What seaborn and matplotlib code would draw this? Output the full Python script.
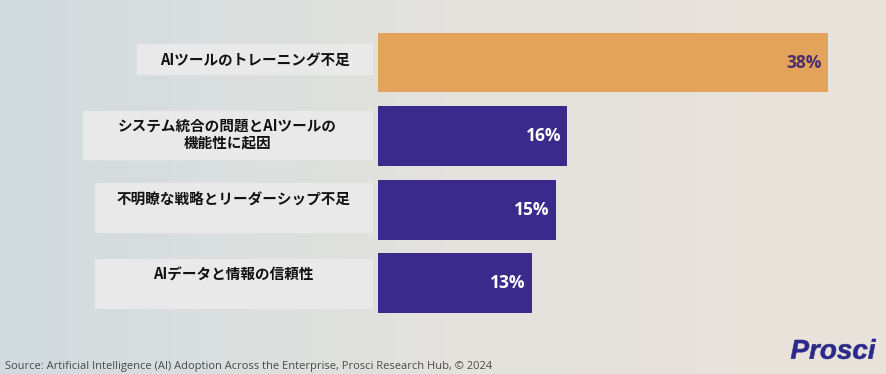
import numpy as np
import pandas as pd
import matplotlib.pyplot as plt
import seaborn as sns
from matplotlib.patches import Rectangle, PathPatch
from matplotlib.textpath import TextPath
from matplotlib.font_manager import FontProperties
from matplotlib.transforms import Affine2D

# Data
categories = [
    "AIツールのトレーニング不足",
    "システム統合の問題とAIツールの\n機能性に起因",
    "不明瞭な戦略とリーダーシップ不足",
    "AIデータと情報の信頼性",
]
values = [38, 16, 15, 13]
value_labels = ["38%", "16%", "15%", "13%"]
bar_colors = ["#E3A35A", "#392A8C", "#392A8C", "#392A8C"]
value_colors = ["#4A2D6E", "white", "white", "white"]
source_text = "Source: Artificial Intelligence (AI) Adoption Across the Enterprise, Prosci Research Hub, © 2024"

# label boxes in pixels (left, top, right, bottom) and text centre y
W, H = 886, 374
boxes = [(137, 44, 372, 74), (83, 111, 372, 159), (95, 183, 372, 232), (95, 259, 372, 308)]
text_y = [59.5, 134, 199.5, 274.5]

sns.set_style("white")
plt.rcParams["font.family"] = ["Noto Sans CJK JP", "DejaVu Sans"]

fig = plt.figure(figsize=(W / 100, H / 100), dpi=100)

# background gradient
bg = fig.add_axes([0, 0, 1, 1], zorder=-5)
left_c = np.array([209, 219, 223]) / 255
mid_c = np.array([227, 226, 221]) / 255
right_c = np.array([234, 227, 218]) / 255
t = np.linspace(0, 1, 200)
grad = np.where(t[:, None] < 0.5,
                left_c + (mid_c - left_c) * (t[:, None] / 0.5),
                mid_c + (right_c - mid_c) * ((t[:, None] - 0.5) / 0.5))
bg.imshow(grad[None, :, :], aspect="auto", extent=[0, 1, 0, 1])
bg.axis("off")

# main bar axes: x from 378px to 828px (0..38), rows spaced ~73.6px
row = 73.6
top_px = 62.5 - 0.5 * row
bot_px = top_px + 4 * row
ax = fig.add_axes([378 / W, 1 - bot_px / H, (828 - 378) / W, (bot_px - top_px) / H])
ax.patch.set_alpha(0)

df = pd.DataFrame({"cat": categories, "val": values})
sns.barplot(data=df, x="val", y="cat", hue="cat", palette=bar_colors,
            legend=False, orient="h", width=0.815, ax=ax, saturation=1, linewidth=0)
ax.set_xlim(0, 38)
ax.set_ylim(3.5, -0.5)
ax.axis("off")

for i, (v, lab, c) in enumerate(zip(values, value_labels, value_colors)):
    ax.text(v - 0.55, i, lab, ha="right", va="center", color=c,
            fontsize=12.5, fontweight="bold", family=["Open Sans", "DejaVu Sans"])

# category label boxes
for (x0, y0, x1, y1), ty, cat in zip(boxes, text_y, categories):
    fig.patches.append(Rectangle((x0 / W, 1 - y1 / H), (x1 - x0) / W, (y1 - y0) / H,
                                 transform=fig.transFigure, color="#EAE9E9", zorder=1))
    fig.text((x0 + x1) / 2 / W, 1 - ty / H, cat, ha="center", va="center",
             fontsize=10.5, fontweight="bold", color="#111111", linespacing=1.05, zorder=2)

# footer
fig.text(5 / W, 1 - 366 / H, source_text, ha="left", va="center", fontsize=8,
         color="#4A4A4A", family=["Open Sans", "DejaVu Sans"])

# condensed logo: squeeze a bold italic text path into its box
tp = TextPath((0, 0), "Prosci", size=10,
              prop=FontProperties(family="Liberation Sans", weight="bold", style="italic"))
ext = tp.get_extents()
sx = (876 - 791) / ext.width
sy = (359 - 339) / ext.height
logo_tf = (Affine2D().translate(-ext.x0, -ext.y0).scale(sx / W, sy / H)
           .translate(791 / W, 1 - 359 / H) + fig.transFigure)
fig.patches.append(PathPatch(tp, transform=logo_tf, color="#2B2A8A", lw=0.4, zorder=3))

plt.savefig("out.png", dpi=100)
